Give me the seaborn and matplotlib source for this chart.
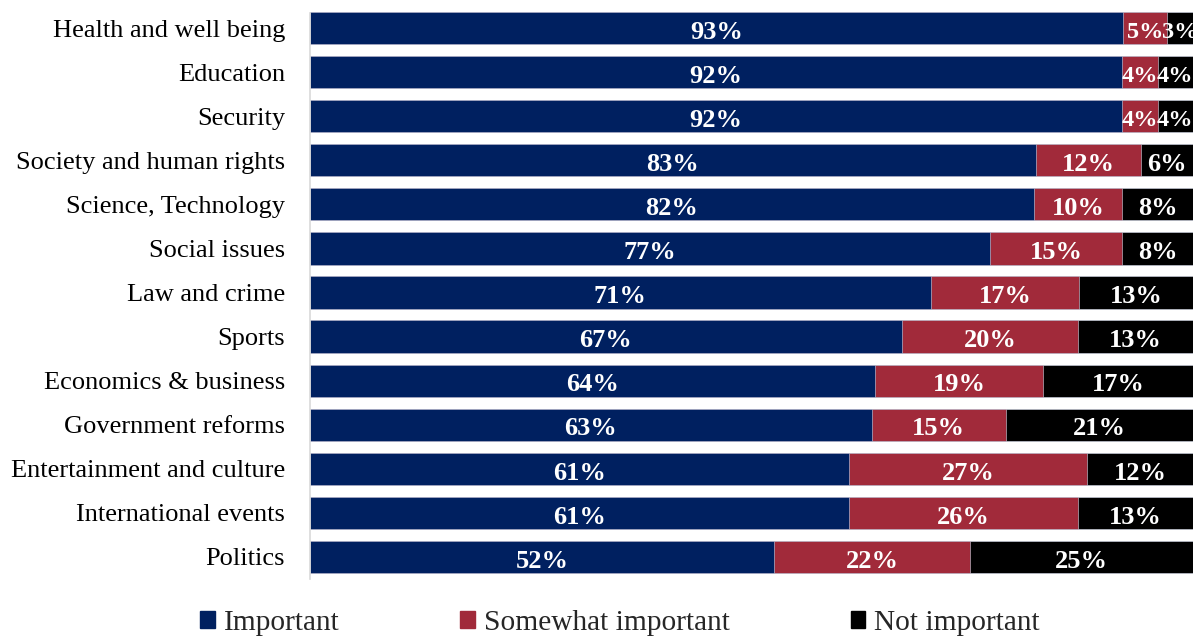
import numpy as np
import pandas as pd
import matplotlib
matplotlib.use("Agg")
import matplotlib.pyplot as plt
from matplotlib.patches import Patch
import seaborn as sns

categories = [
    "Health and well being", "Education", "Security", "Society and human rights",
    "Science, Technology", "Social issues", "Law and crime", "Sports",
    "Economics & business", "Government reforms", "Entertainment and culture",
    "International events", "Politics",
]
important = [93, 92, 92, 83, 82, 77, 71, 67, 64, 63, 61, 61, 52]
somewhat = [5, 4, 4, 12, 10, 15, 17, 20, 19, 15, 27, 26, 22]
not_important = [3, 4, 4, 6, 8, 8, 13, 13, 17, 21, 12, 13, 25]

series = ["Important", "Somewhat important", "Not important"]
colors = ["#002060", "#A12A3A", "#000000"]

sns.set_theme(style="white")
plt.rcParams["font.family"] = ["Liberation Serif", "DejaVu Serif"]

df = pd.DataFrame({
    "category": categories,
    "Important": important,
    "Somewhat important": somewhat,
    "Not important": not_important,
})
# 100% stacked: each row is scaled to its own total
totals = df[series].sum(axis=1)
shares = df[series].div(totals, axis=0) * 100
cum = shares.cumsum(axis=1)

fig = plt.figure(figsize=(12.03, 6.39), dpi=100)
ax = fig.add_axes([310 / 1203, 1 - 579 / 639, 883 / 1203, 573 / 639])

# draw cumulative layers from the outermost inward so each segment shows
for name, color in reversed(list(zip(series, colors))):
    sns.barplot(x=cum[name], y=df["category"], color=color, orient="h",
                width=0.73, ax=ax, edgecolor="#d0d6e6", linewidth=0.4,
                saturation=1)

for i in range(len(df)):
    for name in series:
        share = shares[name].iloc[i]
        center = cum[name].iloc[i] - share / 2
        size = 17.5 if share < 5.5 else 19   # narrow segments get a slightly smaller label
        ax.text(center, i + 0.04, f"{df[name].iloc[i]}%", ha="center",
                va="center_baseline", color="white", fontsize=size,
                fontweight="bold")

ax.set_xlim(0, 100)
ax.set_ylim(len(df) - 0.5, -0.5)
ax.set_xlabel("")
ax.set_ylabel("")
ax.set_xticks([])
ax.tick_params(axis="y", labelsize=19, length=0, pad=18, colors="black")
for side in ["top", "right", "bottom"]:
    ax.spines[side].set_visible(False)
ax.spines["left"].set_color("#d9d9d9")
ax.spines["left"].set_linewidth(1.2)
ax.spines["left"].set_bounds(len(df) - 0.5, -0.33)

handles = [Patch(facecolor=c, edgecolor=c) for c in colors]
fig.legend(handles, series, loc="center", bbox_to_anchor=(620 / 1203, 1 - 623 / 639),
           ncol=3, frameon=False, fontsize=21.2, handlelength=0.5, handleheight=0.5,
           handletextpad=0.3, columnspacing=4.1)

fig.savefig("out.png", dpi=100)
